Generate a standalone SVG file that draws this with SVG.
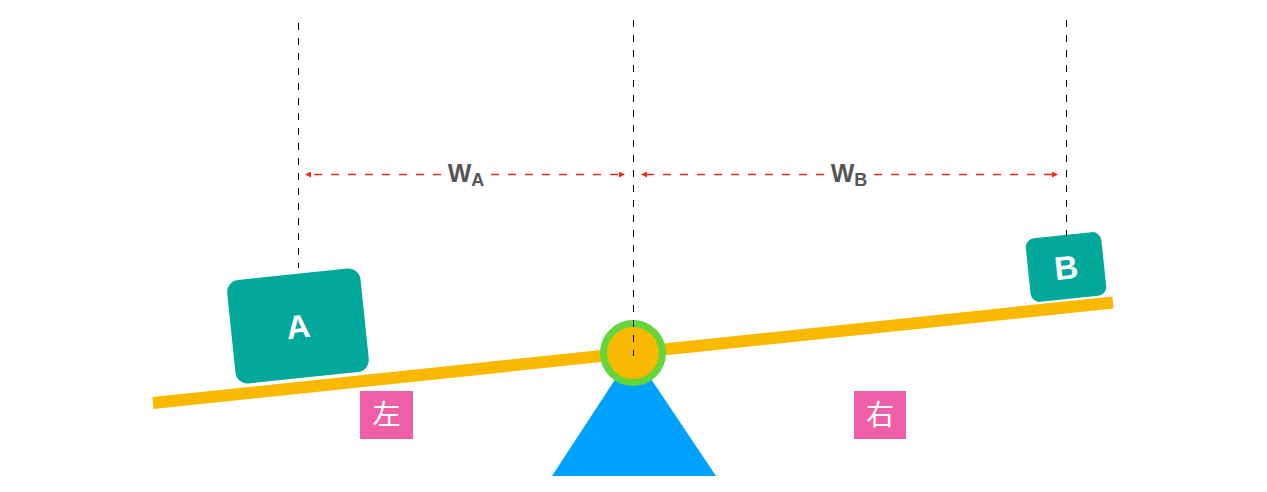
<svg xmlns="http://www.w3.org/2000/svg" width="1267" height="492" viewBox="0 0 1267 492">
<defs>
<style>
.guide{stroke:#000;stroke-width:1;stroke-dasharray:7 8;fill:none}
.dim{stroke:#F0281E;stroke-width:1.3;stroke-dasharray:8 9;fill:none}
.box{fill:#02A89C}
.boxtxt{font-family:"Liberation Sans",Arial,sans-serif;font-weight:bold;font-size:33px;fill:#fff;text-anchor:middle}
.side{fill:#EF5FA7}
.sidetxt{font-family:"Noto Sans CJK SC","Noto Sans",sans-serif;font-size:28px;fill:#fff;text-anchor:middle}
.lbl{font-family:"Liberation Sans",Arial,sans-serif;font-weight:bold;fill:#555;text-anchor:middle}
</style>
<marker id="arr" viewBox="0 0 10 10" refX="10" refY="5" markerWidth="7" markerHeight="6" markerUnits="userSpaceOnUse" orient="auto-start-reverse">
<path d="M0,0 L10,5 L0,10 Z" fill="#F0281E"/>
</marker>
</defs>
<rect width="1267" height="492" fill="#fff"/>
<g id="beam">
<line x1="153" y1="403" x2="1113" y2="302.5" stroke="#F8B900" stroke-width="12"/>
</g>
<g id="fulcrum">
<polygon points="633,352 716,476 552,476" fill="#00A2FF"/>
<circle cx="633" cy="353" r="29.5" fill="#F8B900" stroke="#62D63A" stroke-width="7"/>
</g>
<g id="boxA" transform="translate(298,326) rotate(-5.95)">
<rect class="box" x="-67" y="-52" width="134" height="104" rx="12"/>
<text class="boxtxt" x="0" y="12">A</text>
</g>
<g id="boxB" transform="translate(1066,267) rotate(-5.95)">
<rect class="box" x="-38" y="-32" width="76" height="64" rx="9"/>
<text class="boxtxt" x="0" y="12">B</text>
</g>
<g id="left">
<rect class="side" x="360" y="391" width="53" height="48"/>
<text class="sidetxt" x="386.5" y="425">左</text>
</g>
<g id="right">
<rect class="side" x="854" y="391" width="52" height="48"/>
<text class="sidetxt" x="880" y="425">右</text>
</g>
<g id="connectors">
<line class="guide" x1="298.5" y1="23" x2="298.5" y2="268"/>
<line class="guide" x1="633.5" y1="20" x2="633.5" y2="356"/>
<line class="guide" x1="1066.5" y1="20" x2="1066.5" y2="236"/>
<line class="dim" x1="441" y1="174.5" x2="305" y2="174.5" marker-end="url(#arr)"/>
<line class="dim" x1="491" y1="174.5" x2="625" y2="174.5" marker-end="url(#arr)"/>
<line class="dim" x1="824" y1="174.5" x2="641" y2="174.5" marker-end="url(#arr)"/>
<line class="dim" x1="874" y1="174.5" x2="1058" y2="174.5" marker-end="url(#arr)"/>
</g>
<g id="labelWA">
<text class="lbl" x="466" y="182"><tspan font-size="25">W</tspan><tspan font-size="18" dy="4">A</tspan></text>
</g>
<g id="labelWB">
<text class="lbl" x="849" y="182"><tspan font-size="25">W</tspan><tspan font-size="18" dy="4">B</tspan></text>
</g>
</svg>
